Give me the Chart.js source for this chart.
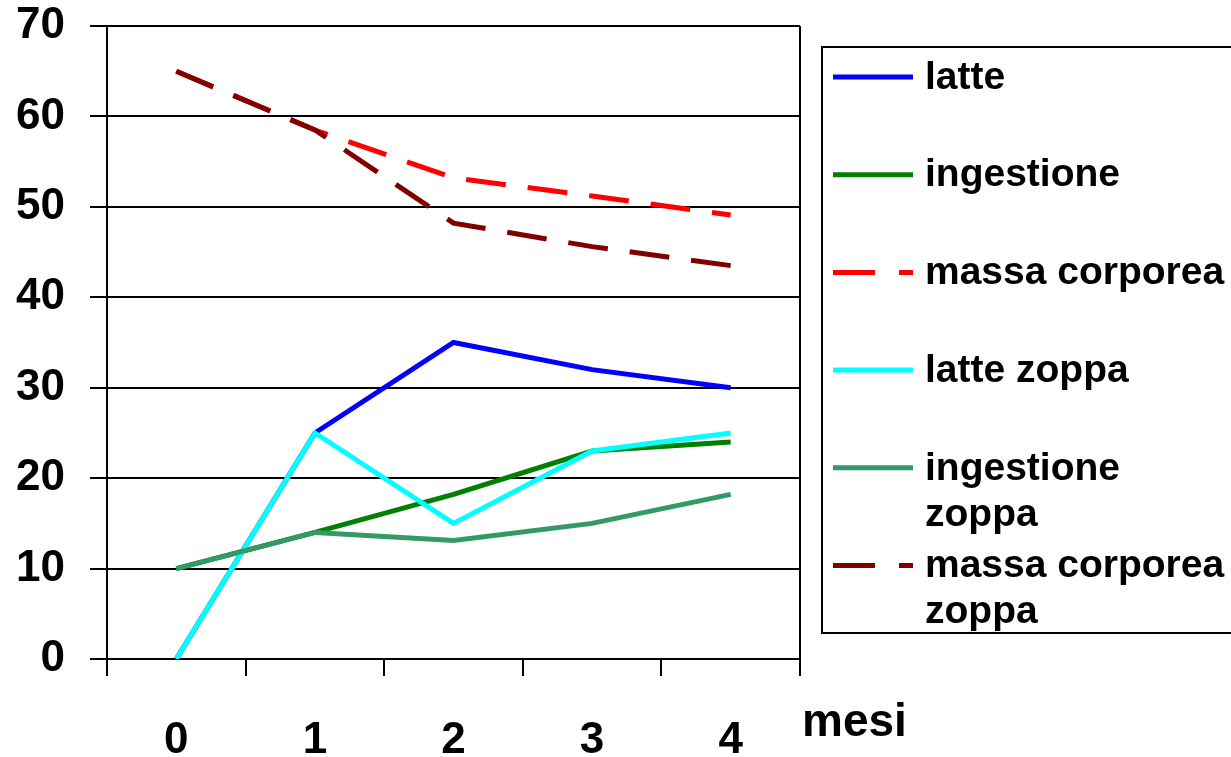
<!DOCTYPE html>
<html>
<head>
<meta charset="utf-8">
<script src="https://cdn.jsdelivr.net/npm/chart.js@4.4.1/dist/chart.umd.min.js"></script>
<style>
    html, body { margin: 0; padding: 0; background: #fff; }
    #wrap { width: 1231px; height: 757px; position: relative; }
</style>
</head>
<body>
<div id="wrap"><canvas id="chart"></canvas></div>
<script>
const mesi = ['0', '1', '2', '3', '4'];
const yTicks = [0, 10, 20, 30, 40, 50, 60, 70];

const latte = [0, 25, 35, 32, 30];
const ingestione = [10, 14, 18.2, 23, 24];
const massaCorporea = [65, 58.5, 53.2, 51.2, 49.1];
const latteZoppa = [0, 25, 15, 23, 25];
const ingestioneZoppa = [10, 14, 13.1, 15, 18.2];
const massaCorporeaZoppa = [65, 58.5, 48.2, 45.6, 43.5];

const FONT = '"Liberation Sans", Arial, sans-serif';
const DASH = [40, 22];

const series = [
    { label: ['latte'], data: latte, color: '#0000ff', dash: [] },
    { label: ['ingestione'], data: ingestione, color: '#008000', dash: [] },
    { label: ['massa corporea'], data: massaCorporea, color: '#ff0000', dash: DASH },
    { label: ['latte zoppa'], data: latteZoppa, color: '#00ffff', dash: [] },
    { label: ['ingestione', 'zoppa'], data: ingestioneZoppa, color: '#339966', dash: [] },
    { label: ['massa corporea', 'zoppa'], data: massaCorporeaZoppa, color: '#800000', dash: DASH }
];

// box legend on the right, the axis title and the plot frame
const extras = {
    id: 'extras',
    afterDraw(chart) {
        const { ctx, chartArea } = chart;
        ctx.save();

        // right edge of the plot frame
        ctx.strokeStyle = '#000';
        ctx.lineWidth = 2;
        ctx.beginPath();
        ctx.moveTo(chartArea.right, chartArea.top);
        ctx.lineTo(chartArea.right, chartArea.bottom);
        ctx.stroke();

        // x axis title
        ctx.fillStyle = '#000';
        ctx.font = 'bold 46px ' + FONT;
        ctx.textAlign = 'left';
        ctx.textBaseline = 'middle';
        ctx.fillText('mesi', chartArea.right + 2, 723);

        // legend box
        const bx = 822, by = 47, bh = 586;
        ctx.lineWidth = 2;
        ctx.strokeRect(bx, by, 1231 - bx + 10, bh);

        const startY = 77, step = 97.7, lineH = 46;
        ctx.font = 'bold 39px ' + FONT;
        chart.data.datasets.forEach((ds, i) => {
            const y = startY + i * step;
            ctx.strokeStyle = ds.borderColor;
            ctx.lineWidth = 5;
            ctx.setLineDash(ds.borderDash.length ? [42, 24] : []);
            ctx.beginPath();
            ctx.moveTo(833, y);
            ctx.lineTo(913, y);
            ctx.stroke();
            ctx.setLineDash([]);
            ctx.fillStyle = '#000';
            ds.legendLines.forEach((t, k) => ctx.fillText(t, 925, y + 1 + k * lineH));
        });

        ctx.restore();
    }
};

new Chart(document.getElementById('chart'), {
    type: 'line',
    data: {
        labels: mesi,
        datasets: series.map((s, i) => ({
            label: s.label.join(' '),
            legendLines: s.label,
            data: s.data,
            borderColor: s.color,
            backgroundColor: s.color,
            borderWidth: 5,
            borderDash: s.dash,
            pointRadius: 0,
            tension: 0,
            fill: false,
            // later series are painted over earlier ones
            order: series.length - i
        }))
    },
    options: {
        responsive: true,
        maintainAspectRatio: false,
        animation: false,
        layout: { padding: { top: 26, right: 431, left: 0, bottom: 0 } },
        plugins: {
            legend: { display: false },
            tooltip: { enabled: false }
        },
        scales: {
            x: {
                offset: true,
                afterFit: scale => {
                    scale.height = 98;
                    scale.paddingLeft = 0;
                    scale.paddingRight = 0;
                },
                grid: {
                    offset: true,
                    drawOnChartArea: false,
                    drawTicks: true,
                    tickLength: 17,
                    color: '#000',
                    lineWidth: 2
                },
                border: { color: '#000', width: 2 },
                ticks: {
                    color: '#000',
                    padding: 38,
                    font: { family: FONT, size: 44, weight: 'bold' }
                }
            },
            y: {
                min: 0,
                max: 70,
                afterFit: scale => {
                    scale.width = 107;
                    scale.paddingTop = 0;
                    scale.paddingBottom = 0;
                },
                afterBuildTicks: scale => { scale.ticks = yTicks.map(v => ({ value: v })); },
                grid: {
                    color: '#000',
                    lineWidth: 2,
                    tickLength: 17
                },
                border: { color: '#000', width: 2 },
                ticks: {
                    color: '#000',
                    padding: 25,
                    font: { family: FONT, size: 44, weight: 'bold' }
                }
            }
        }
    },
    plugins: [extras]
});
</script>
</body>
</html>
